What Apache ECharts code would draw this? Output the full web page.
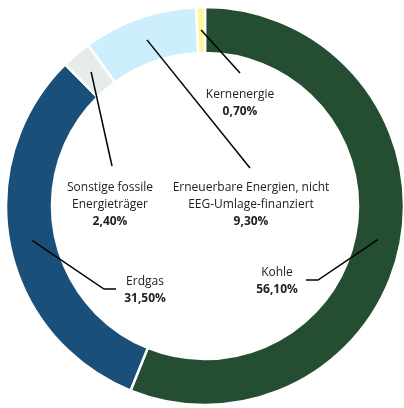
<!DOCTYPE html>
<html>
<head>
<meta charset="utf-8">
<script src="https://cdn.jsdelivr.net/npm/echarts@6/dist/echarts.min.js"></script>
<style>
  html, body { margin: 0; padding: 0; background: #fff; }
  #chart { width: 404px; height: 408px; }
</style>
</head>
<body>
<div id="chart"></div>
<script>
// data
const categories = ['Kohle', 'Erdgas', 'Sonstige fossile\nEnergieträger', 'Erneuerbare Energien, nicht\nEEG-Umlage-finanziert', 'Kernenergie'];
const shares = [56.1, 31.5, 2.4, 9.3, 0.7];
const colors = ['#254d32', '#1a4f7a', '#e6ede9', '#cdeefc', '#fff59a'];

// label placement (center of text block) and leader line bends
const labelAt = [[277, 281], [145, 290], [110, 205], [251, 205], [240, 103]];
const leaderTo = [
  [[318, 280], [306, 280]],
  [[104, 289], [116, 289]],
  [[112, 166], [112, 166]],
  [[250, 168], [250, 168]],
  [[240, 73], [240, 73]]
];

const chart = echarts.init(document.getElementById('chart'));

const ring = {
  type: 'pie',
  center: [205, 206],
  radius: [153, 199],
  startAngle: 90,
  clockwise: true,
  avoidLabelOverlap: false
};

const option = {
  animation: false,
  series: [
    Object.assign({}, ring, {
      z: 2,
      itemStyle: { borderColor: '#fff', borderWidth: 2.5 },
      label: { show: false },
      labelLine: { show: false },
      data: categories.map((name, i) => ({
        name: name,
        value: shares[i],
        itemStyle: { color: colors[i] }
      }))
    }),
    // transparent copy on top, only carries labels and leader lines
    Object.assign({}, ring, {
      z: 3,
      silent: true,
      itemStyle: { color: 'rgba(0,0,0,0)', borderWidth: 0 },
      label: {
        show: true,
        position: 'outside',
        fontFamily: 'Open Sans',
        fontSize: 12,
        color: '#222',
        lineHeight: 17,
        align: 'center',
        formatter: p => p.name + '\n{v|' + p.value.toFixed(2).replace('.', ',') + '%}',
        rich: {
          v: { fontFamily: 'Open Sans', fontSize: 12, fontWeight: 'bold', color: '#222', lineHeight: 17 }
        }
      },
      labelLine: {
        show: true,
        lineStyle: { color: '#000', width: 1.5 }
      },
      labelLayout: params => {
        const i = params.dataIndex;
        const lay = chart.getModel().getSeriesByIndex(params.seriesIndex).getData().getItemLayout(i);
        const mid = (lay.startAngle + lay.endAngle) / 2;
        const rm = (lay.r + lay.r0) / 2;
        const start = [lay.cx + rm * Math.cos(mid), lay.cy + rm * Math.sin(mid)];
        return {
          x: labelAt[i][0],
          y: labelAt[i][1],
          align: 'center',
          verticalAlign: 'middle',
          labelLinePoints: [start, leaderTo[i][0], leaderTo[i][1]]
        };
      },
      data: categories.map((name, i) => ({ name: name, value: shares[i] }))
    })
  ]
};

chart.setOption(option);
</script>
</body>
</html>
